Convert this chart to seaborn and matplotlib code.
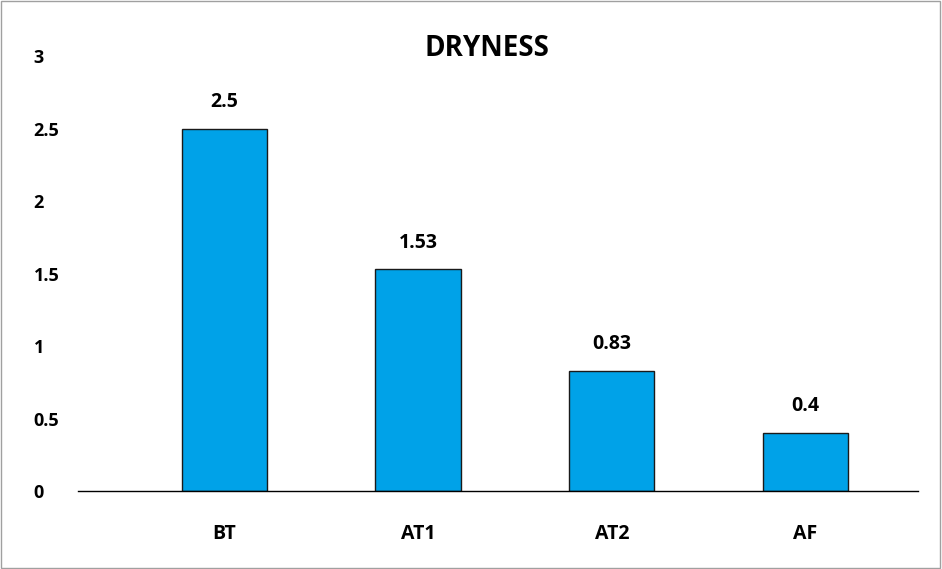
import matplotlib
matplotlib.use("Agg")
import matplotlib.pyplot as plt
import seaborn as sns
import pandas as pd
from matplotlib.patches import Rectangle

categories = ["BT", "AT1", "AT2", "AF"]
values = [2.5, 1.53, 0.83, 0.4]
value_labels = ["2.5", "1.53", "0.83", "0.4"]
y_ticks = [0, 0.5, 1, 1.5, 2, 2.5, 3]
y_tick_labels = ["0", "0.5", "1", "1.5", "2", "2.5", "3"]

sns.set_theme(style="white")
plt.rcParams["font.family"] = ["Open Sans", "DejaVu Sans"]
plt.rcParams["text.color"] = "black"
plt.rcParams["xtick.color"] = "black"
plt.rcParams["ytick.color"] = "black"

df = pd.DataFrame({"group": categories, "value": values})

fig = plt.figure(figsize=(9.42, 5.69), dpi=100)
ax = fig.add_axes([78 / 942, 1 - 491 / 569, 840 / 942, 442 / 569])

sns.barplot(data=df, x="group", y="value", color="#00A2E8", width=0.44,
            edgecolor="#1a1a1a", linewidth=1.0, saturation=1, ax=ax)

ax.set_xlim(-0.755, 3.58)
ax.set_ylim(0, 3.05)
ax.set_xlabel("")
ax.set_ylabel("")

for s in ["top", "right", "left"]:
    ax.spines[s].set_visible(False)
ax.spines["bottom"].set_color("#000000")
ax.spines["bottom"].set_linewidth(1.0)

ax.set_yticks(y_ticks)
ax.set_yticklabels(y_tick_labels, fontsize=13, fontweight="bold", ha="left",
                   color="black")
ax.tick_params(axis="y", length=0, pad=32)
ax.tick_params(axis="x", length=0, pad=24)
for lab in ax.get_xticklabels():
    lab.set_fontsize(14)
    lab.set_fontweight("bold")
    lab.set_color("black")

for p, txt in zip(ax.patches, value_labels):
    ax.annotate(txt, (p.get_x() + p.get_width() / 2, p.get_height()),
                xytext=(0, 12), textcoords="offset points",
                ha="center", va="bottom", fontsize=14, fontweight="bold",
                color="black")

fig.text(487 / 942, 1 - 48 / 569, "DRYNESS", ha="center", va="center",
         fontsize=20, fontweight="bold", color="black")

fig.patches.append(Rectangle((0.001, 0.001), 0.997, 0.997, transform=fig.transFigure,
                             fill=False, edgecolor="#a0a0a0", linewidth=1.0))

fig.savefig("out.png", dpi=100, facecolor="white")
